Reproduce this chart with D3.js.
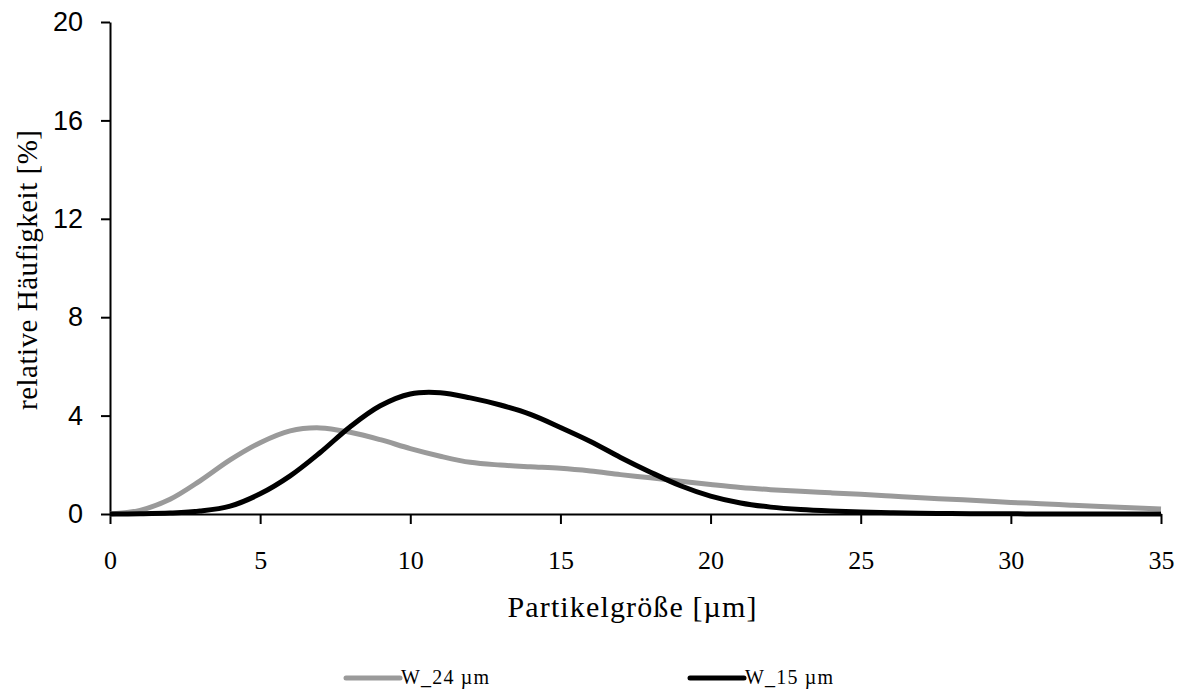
<!DOCTYPE html>
<html>
<head>
<meta charset="utf-8">
<script src="https://cdn.jsdelivr.net/npm/d3@7"></script>
<style>
  html, body { margin: 0; padding: 0; background: #fff; }
  svg { display: block; }
</style>
</head>
<body>
<svg id="chart" width="1186" height="693"></svg>
<script>
// Particle size classes [µm]
const sizes = [0,1,2,3,4,5,6,7,8,9,10,11,12,13,14,15,16,17,18,19,20,21,22,23,24,25,26,27,28,29,30,31,32,33,34,35];

// Relative frequency [%] per size class
const w24 = [0,0.15,0.6,1.35,2.2,2.9,3.38,3.5,3.32,3.02,2.66,2.35,2.1,1.99,1.92,1.86,1.75,1.6,1.47,1.33,1.2,1.08,0.99,0.92,0.86,0.8,0.73,0.66,0.6,0.54,0.47,0.42,0.36,0.3,0.25,0.2];
const w15 = [0,0.01,0.04,0.12,0.32,0.82,1.55,2.5,3.55,4.4,4.88,4.93,4.72,4.43,4.05,3.52,2.95,2.3,1.7,1.15,0.73,0.45,0.28,0.18,0.12,0.08,0.05,0.03,0.02,0.01,0.01,0,0,0,0,0];

const seriesNames = ["W_24 µm", "W_15 µm"];
const seriesColors = ["#9a9a9a", "#000000"];

const xTicks = [0,5,10,15,20,25,30,35];
const yTicks = [0,4,8,12,16,20];

const svg = d3.select("#chart");
const serif = "Liberation Serif";
const sans = "Liberation Sans";

const x = d3.scaleLinear().domain([0, 35]).range([110, 1161]);
const y = d3.scaleLinear().domain([0, 20]).range([514, 22]);

// Y axis
const gy = svg.append("g")
  .attr("transform", `translate(${x(0)},0)`)
  .call(d3.axisLeft(y).tickValues(yTicks).tickSize(9).tickSizeOuter(0).tickPadding(18));
gy.selectAll("path, line").attr("stroke", "#000").attr("stroke-width", 2);
gy.selectAll("text").attr("font-family", sans).attr("font-size", 27).attr("fill", "#000");

// X axis
const gx = svg.append("g")
  .attr("transform", `translate(0,${y(0)})`)
  .call(d3.axisBottom(x).tickValues(xTicks).tickSize(10).tickSizeOuter(0));
gx.selectAll("path, line").attr("stroke", "#000").attr("stroke-width", 2);
gx.selectAll("text")
  .attr("font-family", serif).attr("font-size", 26).attr("fill", "#000")
  .attr("y", 55).attr("dy", 0);

// Axis titles
svg.append("text")
  .attr("x", 632).attr("y", 617)
  .attr("text-anchor", "middle")
  .attr("font-family", serif).attr("font-size", 30)
  .attr("textLength", 249).attr("lengthAdjust", "spacing")
  .text("Partikelgröße [µm]");

svg.append("text")
  .attr("transform", "translate(37,270) rotate(-90)")
  .attr("text-anchor", "middle")
  .attr("font-family", serif).attr("font-size", 29)
  .attr("textLength", 280).attr("lengthAdjust", "spacing")
  .text("relative Häufigkeit [%]");

// Curves
const line = d3.line()
  .x((d, i) => x(sizes[i]))
  .y(d => y(d))
  .curve(d3.curveCatmullRom.alpha(0.5));

[w24, w15].forEach((vals, k) => {
  svg.append("path")
    .datum(vals)
    .attr("fill", "none")
    .attr("stroke", seriesColors[k])
    .attr("stroke-width", 5)
    .attr("stroke-linejoin", "round")
    .attr("d", line);
});

// Legend
const legendX = [346, 690];
seriesNames.forEach((name, k) => {
  const g = svg.append("g").attr("transform", `translate(${legendX[k]},678)`);
  g.append("line")
    .attr("x1", 0).attr("x2", 54).attr("y1", 0).attr("y2", 0)
    .attr("stroke", seriesColors[k]).attr("stroke-width", 5)
    .attr("stroke-linecap", "round");
  g.append("text")
    .attr("x", 55).attr("y", 6)
    .attr("font-family", serif).attr("font-size", 20)
    .attr("textLength", 88).attr("lengthAdjust", "spacing")
    .text(name);
});
</script>
</body>
</html>
